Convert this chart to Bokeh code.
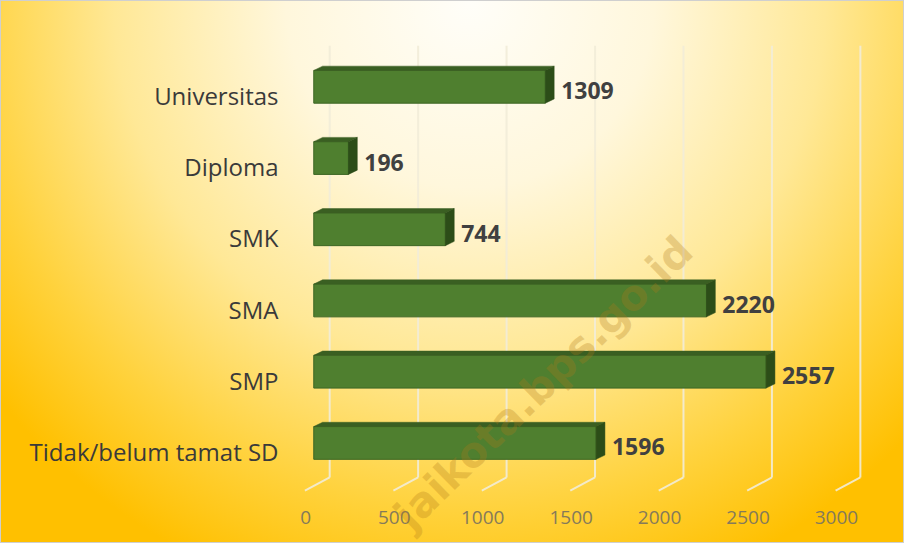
from bokeh.plotting import figure
from bokeh.models import Label, FixedTicker, Range1d, ColumnDataSource, LinearAxis
from bokeh.core.properties import value
from bokeh.embed import file_html
from bokeh.resources import INLINE

# ---- data ----
categories = ["Tidak/belum tamat SD", "SMP", "SMA", "SMK", "Diploma", "Universitas"]
counts = [1596, 2557, 2220, 744, 196, 1309]
x_ticks = [0, 500, 1000, 1500, 2000, 2500, 3000]

# ---- styling constants ----
FONT = "Open Sans"
BAR_H = 0.46      # front face height (category units)
SHIFT = 0.12      # bars sit slightly above their category label
DX = 50           # 3D depth along x (data units)
DY = 0.06         # 3D depth along y (category units)
GRID_DX = 90      # back-wall offset of gridlines (data units)
TICK_SHIFT = 45   # perspective shift of the tick labels (data units)
FRONT = "#4f7f2f"
TOP = "#3a5f22"
SIDE = "#2c4d18"
GRID = "#f2ecd8"

idx = list(range(len(categories)))
ys = [i + SHIFT for i in idx]

src = ColumnDataSource(dict(y=ys, v=counts, vx=[c + DX for c in counts],
                            lab=[str(c) for c in counts]))

top_xs = [[0, DX, v + DX, v] for v in counts]
top_ys = [[y + BAR_H / 2, y + BAR_H / 2 + DY, y + BAR_H / 2 + DY, y + BAR_H / 2] for y in ys]
side_xs = [[v, v + DX, v + DX, v] for v in counts]
side_ys = [[y - BAR_H / 2, y - BAR_H / 2 + DY, y + BAR_H / 2 + DY, y + BAR_H / 2] for y in ys]

X0, X1 = -75, 3249
p = figure(width=904, height=543, x_range=Range1d(X0, X1), y_range=Range1d(-1.306, 5.70),
           output_backend="svg", toolbar_location=None, x_axis_location=None,
           min_border_left=299, min_border_right=17, min_border_top=44, min_border_bottom=0)

p.styles = {
    "background": "radial-gradient(ellipse 68% 115% at 52% 0%, #fffef9 0%, #fff7dc 30%, #ffe896 58%, #ffd23c 82%, #ffc000 100%)",
    "border": "1px solid #cfcfcf",
}
p.background_fill_alpha = 0
p.border_fill_alpha = 0
p.outline_line_color = None
p.xgrid.grid_line_color = None
p.ygrid.grid_line_color = None

# gridlines on the back wall, bending to the floor at the bottom
p.segment(x0=[t + GRID_DX for t in x_ticks], y0=[-0.365] * len(x_ticks),
          x1=[t + GRID_DX for t in x_ticks], y1=[5.70] * len(x_ticks),
          line_color=GRID, line_width=2, line_alpha=0.9)
p.segment(x0=[t + GRID_DX for t in x_ticks], y0=[-0.365] * len(x_ticks),
          x1=[t - 50 for t in x_ticks], y1=[-0.55] * len(x_ticks),
          line_color=GRID, line_width=2, line_alpha=0.9)

# x axis (tick labels slightly shifted for the perspective)
p.extra_x_ranges = {"ticks": Range1d(X0 + TICK_SHIFT, X1 + TICK_SHIFT)}
xa = LinearAxis(x_range_name="ticks", ticker=FixedTicker(ticks=x_ticks))
xa.axis_line_color = None
xa.major_tick_line_color = None
xa.minor_tick_line_color = None
xa.major_tick_out = 0
xa.major_label_text_font = FONT
xa.major_label_text_font_size = "19px"
xa.major_label_text_color = "#857a5a"
xa.major_label_standoff = -34
p.add_layout(xa, "below")

p.yaxis.ticker = FixedTicker(ticks=idx)
p.yaxis.major_label_overrides = {i: c for i, c in zip(idx, categories)}
p.yaxis.axis_line_color = None
p.yaxis.major_tick_line_color = None
p.yaxis.minor_tick_line_color = None
p.yaxis.major_tick_out = 0
p.yaxis.major_label_text_font = FONT
p.yaxis.major_label_text_font_size = "24px"
p.yaxis.major_label_text_color = "#3a3a3a"
p.yaxis.major_label_standoff = 22

# 3D bars
p.hbar(y="y", right="v", left=0, height=BAR_H, source=src, fill_color=FRONT,
       line_color="#3d6624", line_width=1)
p.patches(top_xs, top_ys, fill_color=TOP, line_color=TOP, line_width=0.5)
p.patches(side_xs, side_ys, fill_color=SIDE, line_color=SIDE, line_width=0.5)

# value labels
p.text(x="vx", y="y", text="lab", source=src, x_offset=7, y_offset=4,
       text_baseline="middle", text_align="left", text_font=value(FONT),
       text_font_style="bold", text_font_size="23px", text_color="#404040")

# watermark
wm = Label(x=118, y=5, x_units="screen", y_units="screen", text="jaikota.bps.go.id",
           angle=0.775, text_font="DejaVu Sans", text_font_style="bold", text_font_size="42px",
           text_color="#b07818", text_alpha=0.28)
p.add_layout(wm)

open("out.html", "w").write(file_html(p, INLINE))
